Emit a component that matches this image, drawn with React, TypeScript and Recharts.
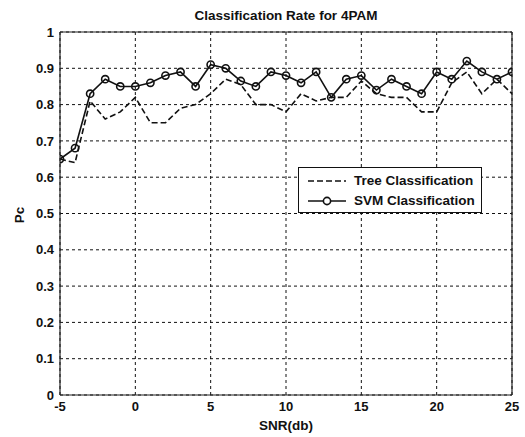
import React from "react";
import {
  LineChart,
  Line,
  XAxis,
  YAxis,
  CartesianGrid,
  ReferenceLine,
  Legend,
} from "recharts";

const snr = [-5, -4, -3, -2, -1, 0, 1, 2, 3, 4, 5, 6, 7, 8, 9, 10, 11, 12, 13, 14, 15, 16, 17, 18, 19, 20, 21, 22, 23, 24, 25];
const treeRate = [0.65, 0.64, 0.81, 0.76, 0.78, 0.82, 0.75, 0.75, 0.79, 0.8, 0.83, 0.87, 0.855, 0.8, 0.8, 0.78, 0.83, 0.81, 0.82, 0.82, 0.865, 0.83, 0.82, 0.82, 0.78, 0.78, 0.86, 0.89, 0.83, 0.87, 0.83];
const svmRate = [0.65, 0.68, 0.83, 0.87, 0.85, 0.85, 0.86, 0.88, 0.89, 0.85, 0.91, 0.9, 0.865, 0.85, 0.89, 0.88, 0.86, 0.89, 0.82, 0.87, 0.88, 0.84, 0.87, 0.85, 0.83, 0.89, 0.87, 0.92, 0.89, 0.87, 0.89];
const xTicks = [-5, 0, 5, 10, 15, 20, 25];
const yTicks = [0, 0.1, 0.2, 0.3, 0.4, 0.5, 0.6, 0.7, 0.8, 0.9, 1];
const titleText = "Classification Rate for 4PAM";
const xLabel = "SNR(db)";
const yLabel = "Pc";
const treeName = "Tree Classification";
const svmName = "SVM Classification";

const data = snr.map((s, i) => ({ snr: s, tree: treeRate[i], svm: svmRate[i] }));

const FONT = "'Liberation Sans', Arial, sans-serif";

const tickStyle = { fontFamily: FONT, fontSize: 13, fontWeight: 700, fill: "#111" };

const fmtY = (v: number) => (v === 0 ? "0" : v === 1 ? "1" : v.toFixed(1));

const LegendBox = () => (
  <div
    style={{
      width: 182,
      height: 44,
      border: "1px solid #111",
      background: "#fff",
      fontFamily: FONT,
      fontSize: 13.5,
      fontWeight: 700,
      color: "#111",
      position: "relative",
    }}
  >
    <svg width={50} height={44} style={{ position: "absolute", left: 0, top: 0 }}>
      <line x1={9} y1={13} x2={47} y2={13} stroke="#111" strokeWidth={1.6} strokeDasharray="6 3" />
      <line x1={9} y1={33} x2={47} y2={33} stroke="#111" strokeWidth={1.6} />
      <circle cx={28} cy={33} r={3.6} fill="#fff" stroke="#111" strokeWidth={1.6} />
    </svg>
    <div style={{ position: "absolute", left: 55, top: 5, whiteSpace: "nowrap", lineHeight: "16px" }}>{treeName}</div>
    <div style={{ position: "absolute", left: 55, top: 25, whiteSpace: "nowrap", lineHeight: "16px" }}>{svmName}</div>
  </div>
);

export default function App() {
  return (
    <div style={{ position: "absolute", left: 0, top: 0, width: 525, height: 437, background: "#fff" }}>
      <div
        style={{
          position: "absolute",
          left: 60,
          width: 452,
          top: 8,
          textAlign: "center",
          fontFamily: FONT,
          fontSize: 13.5,
          fontWeight: 700,
          color: "#111",
          lineHeight: "16px",
          zIndex: 2,
        }}
      >
        {titleText}
      </div>
      <div
        style={{
          position: "absolute",
          left: 20,
          top: 215,
          transform: "translate(-50%, -50%) rotate(-90deg)",
          fontFamily: FONT,
          fontSize: 13.5,
          fontWeight: 700,
          color: "#111",
          lineHeight: "16px",
          zIndex: 2,
        }}
      >
        {yLabel}
      </div>
      <div
        style={{
          position: "absolute",
          left: 60,
          width: 452,
          top: 418,
          textAlign: "center",
          fontFamily: FONT,
          fontSize: 13.5,
          fontWeight: 700,
          color: "#111",
          lineHeight: "16px",
          zIndex: 2,
        }}
      >
        {xLabel}
      </div>
      <LineChart width={525} height={437} data={data} margin={{ top: 32, right: 13, bottom: 0, left: 0 }}>
        <CartesianGrid stroke="#111" strokeDasharray="3 3" strokeWidth={1} />
        <XAxis
          dataKey="snr"
          type="number"
          domain={[-5, 25]}
          ticks={xTicks}
          height={42}
          tickSize={0}
          tickMargin={7}
          tick={tickStyle}
          axisLine={{ stroke: "#222", strokeWidth: 1.2 }}
          tickLine={false}
          interval={0}
          allowDataOverflow
        />
        <YAxis
          type="number"
          domain={[0, 1]}
          ticks={yTicks}
          width={60}
          tickSize={0}
          tickMargin={6}
          tick={tickStyle}
          tickFormatter={fmtY}
          axisLine={{ stroke: "#222", strokeWidth: 1.2 }}
          tickLine={false}
          interval={0}
          allowDataOverflow
        />
        <ReferenceLine y={1} stroke="#222" strokeWidth={1.2} />
        <ReferenceLine x={25} stroke="#222" strokeWidth={1.2} />
        <Line
          dataKey="tree"
          name={treeName}
          stroke="#111"
          strokeWidth={1.6}
          strokeDasharray="6 3"
          dot={false}
          isAnimationActive={false}
          type="linear"
        />
        <Line
          dataKey="svm"
          name={svmName}
          stroke="#111"
          strokeWidth={1.6}
          dot={{ r: 3.6, fill: "none", stroke: "#111", strokeWidth: 1.6 }}
          activeDot={false}
          isAnimationActive={false}
          type="linear"
        />
        <Legend
          layout="horizontal"
          verticalAlign="middle"
          align="center"
          content={() => <LegendBox />}
          wrapperStyle={{ left: 298, top: 167, width: 184, height: 46 }}
        />
      </LineChart>
    </div>
  );
}
